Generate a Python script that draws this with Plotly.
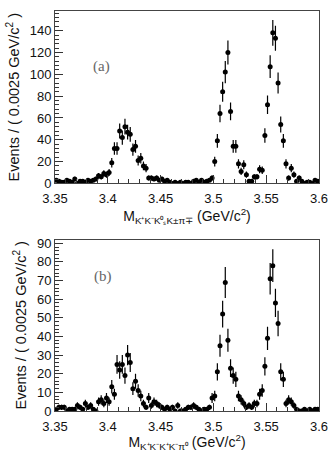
import numpy as np
import plotly.graph_objects as go

# bin edges 3.35 .. 3.60, width 0.0025 GeV/c^2
x_lo = 3.35
bin_w = 0.0025
n_bins = 100
x_centers = [round(x_lo + bin_w * (i + 0.5), 5) for i in range(n_bins)]

counts_a = [3, 2, 1, 1, 3, 2, 1, 4, 0, 2, 2, 1, 3, 2, 3, 4, 7, 6, 9, 8,
            10, 19, 32, 32, 48, 42, 52, 47, 45, 31, 34, 21, 23, 16, 14, 5, 5, 4, 5, 3,
            4, 2, 3, 1, 0, 1, 0, 1, 0, 1, 1, 0, 2, 3, 1, 3, 1, 2, 3, 5,
            20, 39, 64, 84, 102, 120, 66, 34, 34, 18, 11, 17, 8, 2, 2, 6, 6, 13, 12, 44,
            72, 107, 138, 133, 92, 54, 39, 18, 5, 14, 8, 2, 5, 2, 0, 1, 1, 0, 3, 2]

counts_b = [1, 2, 2, 2, 0, 1, 1, 1, 3, 2, 1, 4, 2, 3, 1, 0, 5, 6, 4, 7,
            5, 13, 9, 25, 22, 25, 19, 30, 26, 12, 16, 11, 8, 4, 2, 7, 3, 5, 4, 3,
            2, 1, 2, 1, 2, 0, 3, 0, 0, 1, 2, 2, 3, 2, 1, 0, 1, 1, 2, 7,
            8, 21, 35, 52, 69, 38, 23, 19, 17, 8, 6, 4, 2, 3, 2, 4, 4, 9, 11, 24,
            39, 71, 78, 58, 47, 21, 17, 4, 6, 5, 3, 1, 0, 0, 1, 0, 1, 0, 1, 1]

x_tickvals = [3.35, 3.4, 3.45, 3.5, 3.55, 3.6]
x_ticktext = ["3.35", "3.4", "3.45", "3.5", "3.55", "3.6"]
y_range_a = [0, 158]
y_range_b = [0, 92]

FONT = "Liberation Sans, Arial, sans-serif"


def errs(c):
    c = np.array(c, dtype=float)
    up = np.where(c > 0, np.sqrt(c), 1.15)
    dn = np.sqrt(c)
    return up, dn


fig = go.Figure()
for cnt, xa, ya in [(counts_a, "x", "y"), (counts_b, "x2", "y2")]:
    up, dn = errs(cnt)
    fig.add_trace(go.Scatter(
        x=x_centers, y=cnt, xaxis=xa, yaxis=ya, mode="markers",
        marker=dict(color="black", size=5, symbol="circle"),
        error_y=dict(type="data", array=up, arrayminus=dn, symmetric=False,
                     color="black", thickness=1.2, width=0),
        error_x=dict(type="constant", value=bin_w / 2, color="black",
                     thickness=1.2, width=0),
        showlegend=False, cliponaxis=True,
    ))

W, H = 335, 452
L, R, T, B = 55, 11, 7, 39
ph = H - T - B


def ydom(top_px, bot_px):
    return [(H - B - bot_px) / ph, (H - B - top_px) / ph]


def px_x(px):
    return (px - L) / (W - L - R)


def px_y(py):
    return (H - B - py) / ph


xcommon = dict(range=[3.35, 3.6], tickvals=x_tickvals, ticktext=x_ticktext,
               ticks="inside", ticklen=8, tickcolor="#333", tickwidth=1,
               showline=True, linecolor="#444", linewidth=1, mirror=True,
               showgrid=False, zeroline=False, ticklabelstandoff=3,
               tickfont=dict(family=FONT, size=13, color="#111"),
               minor=dict(ticks="inside", dtick=0.01, tick0=3.35, ticklen=4,
                          tickcolor="#333", showgrid=False),
               title=dict(font=dict(family=FONT, size=14, color="#111"), standoff=2))

ycommon = dict(ticks="inside", ticklen=8, tickcolor="#333", tickwidth=1,
               showline=True, linecolor="#444", linewidth=1, mirror=True,
               showgrid=False, zeroline=False,
               tickfont=dict(family=FONT, size=13, color="#111"),
               title=dict(text="Events / ( 0.0025 GeV/c<sup>2</sup> )",
                          font=dict(family=FONT, size=14.5, color="#111"), standoff=6))

fig.update_layout(
    width=W, height=H, margin=dict(l=L, r=R, t=T, b=B),
    paper_bgcolor="white", plot_bgcolor="white",
    xaxis=dict(xcommon, anchor="y",
               title=dict(xcommon["title"], text="M<sub>K⁺K⁻K⁰ₛK±π∓</sub> (GeV/c<sup>2</sup>)")),
    yaxis=dict(ycommon, domain=ydom(7, 182), range=y_range_a, anchor="x",
               tickvals=list(range(0, 141, 20)),
               minor=dict(ticks="inside", dtick=4, ticklen=4, tickcolor="#333", showgrid=False)),
    xaxis2=dict(xcommon, anchor="y2",
                title=dict(xcommon["title"], text="M<sub>K⁺K⁻K⁺K⁻π⁰</sub> (GeV/c<sup>2</sup>)")),
    yaxis2=dict(ycommon, domain=ydom(239, 413), range=y_range_b, anchor="x2",
                tickvals=list(range(0, 91, 10)),
                minor=dict(ticks="inside", dtick=2, ticklen=4, tickcolor="#333", showgrid=False)),
    annotations=[
        dict(text="(a)", x=px_x(92), y=px_y(53), xref="paper", yref="paper",
             showarrow=False, font=dict(family="Liberation Serif, DejaVu Serif, serif", size=15, color="#666")),
        dict(text="(b)", x=px_x(93), y=px_y(287), xref="paper", yref="paper",
             showarrow=False, font=dict(family="Liberation Serif, DejaVu Serif, serif", size=15, color="#666")),
    ],
)

fig.write_html("out.html")
